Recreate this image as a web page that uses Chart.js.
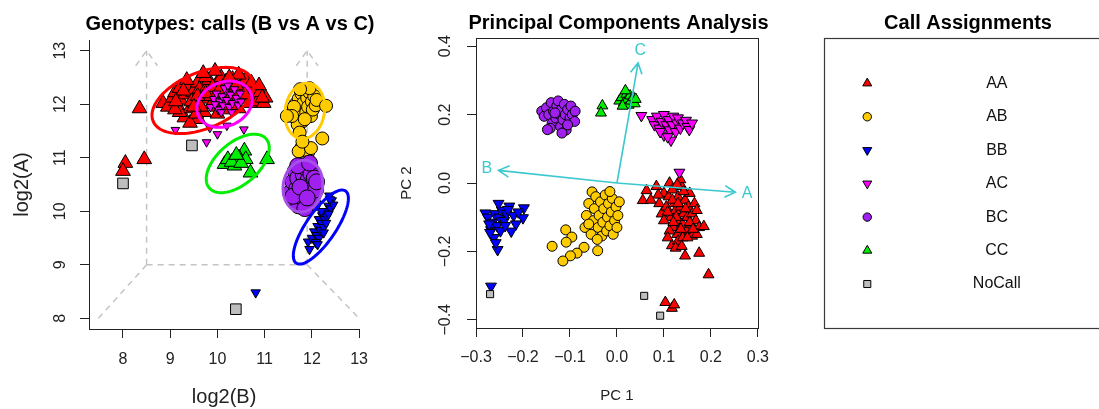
<!DOCTYPE html>
<html>
<head>
<meta charset="utf-8">
<title>Genotype calls</title>
<script src="https://cdn.jsdelivr.net/npm/chart.js@4.4.1/dist/chart.umd.min.js"></script>
<style>
  html, body { margin: 0; padding: 0; background: #ffffff; }
  #page { position: relative; width: 1099px; height: 409px; overflow: hidden; background: #ffffff; }
  #page canvas { position: absolute; top: 0; }
</style>
</head>
<body>
<div id="page">
  <canvas id="genoChart" width="380" height="409" style="left:0px"></canvas>
  <canvas id="pcaChart" width="400" height="409" style="left:380px"></canvas>
  <canvas id="keyChart" width="319" height="409" style="left:780px"></canvas>
</div>
<script>
// ---------------- genotype classes ----------------
const genotypes = ['AA', 'AB', 'BB', 'AC', 'BC', 'CC', 'NoCall'];

// ---------------- intensities: [log2(B), log2(A)] ----------------
const intensAA = [[8.85,12.02],[8.95,11.95],[9.05,12.12],[9.1,12.22],[9.15,11.98],[9.2,12.3],[9.22,12.08],[9.3,11.75],[9.32,12.18],[9.38,12.35],[9.42,11.92],[9.48,12.22],[9.52,12.02],[9.58,12.4],[9.6,11.72],[9.62,12.28],[9.68,12.1],[9.72,11.85],[9.78,12.32],[9.82,12.45],[9.88,12.0],[9.92,12.2],[9.98,12.38],[10.02,11.95],[10.08,12.5],[10.12,12.22],[10.18,12.42],[10.22,12.05],[10.28,12.32],[10.32,12.47],[10.38,12.15],[10.45,11.92],[10.5,12.3],[10.55,12.42],[10.6,12.1],[10.65,12.25],[10.7,12.02],[10.75,12.32],[10.8,12.15],[10.85,12.05],[10.9,12.22],[10.98,12.02],[9.2,11.85],[9.42,11.65],[9.55,11.82],[10.0,11.82],[9.75,12.5],[9.35,12.45],[10.6,12.45],[11.02,12.12],[9.1,11.9],[9.65,11.95],[10.4,12.35],[9.85,12.15],[10.15,11.9],[9.95,12.62],[9.7,12.58],[10.45,12.55],[9.28,12.25],[9.45,12.05],[9.58,12.15],[9.9,12.32],[10.05,12.28],[10.25,12.5],[10.35,11.98],[10.58,12.18],[10.72,12.4],[10.88,12.35],[10.95,12.12],[9.5,11.95],[9.75,12.2],[10.1,12.05],[9.12,12.05],[8.35,11.92],[8.05,10.9],[8.45,10.97],[8.0,10.75]];
const intensAB = [[11.6,11.85],[11.65,12.0],[11.68,11.75],[11.72,12.1],[11.75,11.9],[11.78,12.2],[11.8,11.68],[11.82,12.02],[11.85,12.25],[11.88,11.85],[11.9,12.12],[11.92,11.95],[11.95,12.22],[11.98,11.78],[12.0,12.05],[12.02,11.9],[12.05,12.15],[12.08,11.98],[11.7,11.62],[11.62,11.95],[11.85,11.72],[11.95,12.3],[11.75,12.28],[12.1,12.08],[11.58,11.78],[12.3,11.97],[11.47,11.78],[11.74,11.47],[11.78,11.19],[11.92,11.1],[12.22,11.36],[11.85,11.15],[11.72,11.12],[11.98,11.18],[11.8,11.3]];
const intensBB = [[11.95,9.29],[11.92,9.43],[12.37,10.29],[12.0,9.5],[12.05,9.62],[12.1,9.55],[12.12,9.72],[12.15,9.85],[12.18,9.65],[12.2,9.78],[12.22,9.92],[12.25,9.7],[12.28,9.85],[12.3,10.0],[12.32,9.9],[12.35,10.1],[12.4,10.05],[12.42,10.2],[12.15,9.5],[12.08,9.42],[12.25,9.6],[12.3,9.78],[12.45,10.12],[12.2,10.0],[12.35,9.95],[12.12,9.38],[12.38,10.22],[10.81,8.48]];
const intensAC = [[9.85,11.95],[9.92,12.1],[9.98,12.2],[10.02,11.9],[10.05,12.05],[10.1,12.15],[10.12,11.98],[10.18,12.25],[10.2,12.08],[10.25,11.95],[10.28,12.18],[10.32,12.02],[10.36,12.28],[10.4,12.12],[10.44,11.98],[10.48,12.2],[10.08,11.85],[10.3,11.85],[9.95,12.0],[10.15,12.3],[10.5,12.05],[10.22,12.35],[9.11,11.52],[9.77,11.29],[10.0,11.44],[10.2,11.6],[10.56,11.53],[9.84,11.56]];
const intensBC = [[11.55,10.35],[11.6,10.55],[11.62,10.2],[11.65,10.75],[11.68,10.42],[11.7,10.62],[11.72,10.1],[11.75,10.3],[11.78,10.85],[11.8,10.5],[11.82,10.68],[11.85,10.2],[11.88,10.4],[11.9,10.78],[11.92,10.58],[11.95,10.32],[11.98,10.7],[12.0,10.48],[12.02,10.15],[12.05,10.62],[12.08,10.4],[11.7,10.85],[11.6,10.28],[11.85,10.05],[11.95,10.9],[12.1,10.55],[11.75,10.45],[11.9,10.25]];
const intensCC = [[10.15,10.88],[10.36,10.85],[10.57,11.13],[10.46,11.0],[10.6,10.97],[11.05,10.97],[10.22,10.97],[10.3,10.92],[10.5,10.9],[10.4,11.05],[10.7,10.72]];
const intensNoCall = [[8.0,10.52],[9.46,11.23],[10.39,8.17]];

// ---------------- principal components: [PC1, PC2] ----------------
const pcaAA = [[0.063,-0.022],[0.055,-0.051],[0.084,-0.01],[0.112,0.0],[0.1,-0.03],[0.09,-0.06],[0.095,-0.09],[0.105,-0.07],[0.11,-0.04],[0.115,-0.1],[0.118,-0.02],[0.12,-0.13],[0.122,-0.06],[0.125,-0.08],[0.128,-0.15],[0.13,-0.04],[0.132,-0.11],[0.135,-0.07],[0.138,-0.01],[0.14,-0.12],[0.142,-0.09],[0.145,-0.05],[0.148,-0.14],[0.15,-0.1],[0.152,-0.07],[0.155,-0.03],[0.158,-0.12],[0.16,-0.09],[0.165,-0.06],[0.168,-0.11],[0.17,-0.08],[0.175,-0.13],[0.185,-0.127],[0.175,-0.205],[0.145,-0.213],[0.117,-0.183],[0.195,-0.268],[0.103,-0.349],[0.117,-0.366],[0.122,-0.356],[0.13,-0.17],[0.14,-0.16],[0.125,-0.19],[0.16,-0.155],[0.112,-0.14],[0.1,-0.11],[0.135,0.01],[0.088,-0.035],[0.128,-0.005],[0.15,-0.16],[0.17,-0.15],[0.108,-0.16],[0.118,-0.05],[0.126,-0.1],[0.136,-0.135],[0.146,-0.075],[0.155,-0.115],[0.13,-0.06],[0.142,-0.025],[0.12,-0.115],[0.108,-0.085],[0.162,-0.135],[0.138,-0.185],[0.072,-0.05]];
const pcaAB = [[-0.053,-0.026],[-0.06,-0.06],[-0.065,-0.095],[-0.068,-0.13],[-0.055,-0.15],[-0.05,-0.11],[-0.048,-0.075],[-0.045,-0.04],[-0.04,-0.13],[-0.038,-0.095],[-0.035,-0.055],[-0.032,-0.155],[-0.03,-0.115],[-0.028,-0.075],[-0.025,-0.035],[-0.022,-0.14],[-0.02,-0.1],[-0.018,-0.06],[-0.015,-0.125],[-0.012,-0.085],[-0.01,-0.045],[-0.008,-0.15],[-0.005,-0.11],[-0.002,-0.07],[0.002,-0.095],[0.005,-0.055],[-0.015,-0.025],[-0.042,-0.165],[0.0,-0.13],[-0.06,-0.12],[-0.109,-0.137],[-0.096,-0.158],[-0.138,-0.185],[-0.108,-0.173],[-0.07,-0.188],[-0.085,-0.205],[-0.099,-0.213],[-0.115,-0.228],[-0.041,-0.198]];
const pcaBB = [[-0.28,-0.088],[-0.254,-0.195],[-0.198,-0.073],[-0.229,-0.068],[-0.268,-0.137],[-0.225,-0.141],[-0.2,-0.102],[-0.275,-0.1],[-0.265,-0.115],[-0.26,-0.09],[-0.255,-0.125],[-0.25,-0.1],[-0.245,-0.08],[-0.24,-0.11],[-0.235,-0.09],[-0.262,-0.16],[-0.258,-0.175],[-0.27,-0.145],[-0.248,-0.14],[-0.238,-0.125],[-0.22,-0.095],[-0.215,-0.12],[-0.21,-0.085],[-0.232,-0.078],[-0.272,-0.12],[-0.252,-0.06],[-0.268,-0.302]];
const pcaAC = [[0.052,0.197],[0.075,0.185],[0.08,0.17],[0.085,0.195],[0.09,0.16],[0.095,0.18],[0.1,0.2],[0.1,0.14],[0.105,0.17],[0.11,0.185],[0.112,0.155],[0.115,0.125],[0.118,0.17],[0.12,0.195],[0.125,0.15],[0.128,0.175],[0.13,0.19],[0.135,0.16],[0.14,0.175],[0.147,0.183],[0.15,0.165],[0.154,0.156],[0.16,0.175],[0.108,0.135],[0.092,0.15],[0.133,0.031]];
const pcaBC = [[-0.16,0.21],[-0.155,0.195],[-0.15,0.22],[-0.145,0.2],[-0.14,0.235],[-0.138,0.175],[-0.135,0.21],[-0.13,0.19],[-0.128,0.225],[-0.125,0.24],[-0.122,0.2],[-0.12,0.165],[-0.118,0.215],[-0.115,0.185],[-0.112,0.23],[-0.11,0.2],[-0.108,0.155],[-0.105,0.215],[-0.1,0.19],[-0.098,0.225],[-0.095,0.2],[-0.09,0.18],[-0.089,0.21],[-0.142,0.16],[-0.117,0.146],[-0.148,0.156],[-0.105,0.17],[-0.132,0.205]];
const pcaCC = [[-0.031,0.226],[-0.034,0.205],[0.005,0.24],[0.01,0.25],[0.015,0.235],[0.02,0.26],[0.022,0.245],[0.025,0.228],[0.028,0.255],[0.03,0.24],[0.035,0.25],[0.038,0.232],[0.012,0.225],[0.018,0.27],[0.04,0.245]];
const pcaNoCall = [[-0.27,-0.325],[0.058,-0.33],[0.092,-0.388]];

// variable loadings drawn as arrows from the origin
const loadingNames = ['A', 'B', 'C'];
const loadingPC1 = [0.252, -0.252, 0.045];
const loadingPC2 = [-0.027, 0.037, 0.351];

// ---------------- axis ticks ----------------
const genoXTicks = [8, 9, 10, 11, 12, 13];
const genoXTickLabels = ['8', '9', '10', '11', '12', '13'];
const genoYTicks = [8, 9, 10, 11, 12, 13];
const genoYTickLabels = ['8', '9', '10', '11', '12', '13'];
const pcaXTicks = [-0.3, -0.2, -0.1, 0, 0.1, 0.2, 0.3];
const pcaXTickLabels = ['\u22120.3', '\u22120.2', '\u22120.1', '0.0', '0.1', '0.2', '0.3'];
const pcaYTicks = [-0.4, -0.2, 0, 0.2, 0.4];
const pcaYTickLabels = ['\u22120.4', '\u22120.2', '0.0', '0.2', '0.4'];

// cluster ellipses in log2 space: centre and two conjugate semi-axes
const ellipseGroups = ['AA', 'AC', 'CC', 'AB', 'BC', 'BB'];
const ellipseCentre = [[9.69, 12.07], [10.15, 12.0], [10.43, 10.893], [11.85, 11.875], [11.81, 10.47], [12.19, 9.705]];
const ellipseAxisU = [[1.054, 0.383], [0.559, 0.204], [0.605, 0.456], [0.101, 0.515], [0.094, 0.478], [0.524, 0.673]];
const ellipseAxisV = [[-0.218, 0.486], [-0.171, 0.381], [-0.281, 0.301], [0.41, -0.065], [0.41, -0.065], [-0.256, 0.161]];

// dashed perspective guides behind the intensity scatter
const guideLines = [
  [[8.5, 9], [8.5, 13]],
  [[11.9, 9], [11.9, 13]],
  [[8.5, 9], [11.9, 9]],
  [[8.5, 9], [7.48, 8]],
  [[11.9, 9], [13.0, 8]],
  [[8.27, 12.72], [8.5, 13], [8.73, 12.72]],
  [[11.67, 12.72], [11.9, 13], [12.13, 12.72]]
];

// ---------------- styling ----------------
const INK = '#222222';
const FONT = "'Liberation Sans', Arial, Helvetica, sans-serif";
const fill = { AA: '#ff0000', AB: '#ffcc00', BB: '#0000ff', AC: '#ff00ff', BC: '#a020f0', CC: '#00ee00', NoCall: '#bebebe' };
const ringColour = { AA: '#ff0000', AB: '#ffcc00', BB: '#0000ff', AC: '#ff00ff', BC: '#a64ee8', CC: '#00ee00' };
const shape = { AA: 'triangle', AB: 'circle', BB: 'triangle', AC: 'triangle', BC: 'circle', CC: 'triangle', NoCall: 'rect' };
const turn = { AA: 0, AB: 0, BB: 180, AC: 180, BC: 0, CC: 0, NoCall: 0 };
const genoSize = { AA: 8.5, AB: 6.5, BB: 5.5, AC: 5, BC: 8, CC: 8.5, NoCall: 7.5 };
const pcaSize = { triangle: 6.3, circle: 5, rect: 5 };
const keySize = { triangle: 5.2, circle: 4.2, rect: 5 };
const ARROW = '#3cc8d0';

Chart.defaults.font.family = FONT;
Chart.defaults.color = INK;

const intensData = { AA: intensAA, AB: intensAB, BB: intensBB, AC: intensAC, BC: intensBC, CC: intensCC, NoCall: intensNoCall };
const pcaData = { AA: pcaAA, AB: pcaAB, BB: pcaBB, AC: pcaAC, BC: pcaBC, CC: pcaCC, NoCall: pcaNoCall };

const toPoints = rows => rows.map(([x, y]) => ({ x, y }));

function makeDatasets(source, radiusOf) {
  return genotypes.map((g, i) => ({
    label: g,
    data: toPoints(source[g]),
    pointStyle: shape[g],
    rotation: turn[g],
    pointRadius: radiusOf(g),
    pointHoverRadius: radiusOf(g),
    backgroundColor: fill[g],
    borderColor: '#000000',
    pointBorderWidth: 1,
    showLine: false,
    order: genotypes.length - i
  }));
}

function linearAxis(cfg) {
  return {
    type: 'linear',
    min: cfg.min,
    max: cfg.max,
    afterBuildTicks: s => { s.ticks = cfg.ticks.map(v => ({ value: v })); },
    afterFit: s => { if (cfg.horizontal) { s.height = cfg.fit; } else { s.width = cfg.fit; } },
    grid: { display: true, drawOnChartArea: false, drawTicks: true, tickLength: 9, color: INK, lineWidth: 1 },
    border: { display: true, color: INK, width: 1 },
    ticks: {
      color: INK,
      font: { size: 16 },
      padding: cfg.tickPad,
      autoSkip: false,
      minRotation: cfg.horizontal ? 0 : 90,
      maxRotation: cfg.horizontal ? 0 : 90,
      crossAlign: cfg.horizontal ? 'near' : 'center',
      callback: v => {
        const k = cfg.ticks.findIndex(t => Math.abs(t - v) < 1e-9);
        return k >= 0 ? cfg.labels[k] : '';
      }
    },
    title: { display: true, text: cfg.title, color: INK, font: { size: cfg.titleSize }, padding: cfg.titlePad }
  };
}

function panelTitle(text, x, baseline) {
  return {
    id: 'panelTitle',
    afterDraw(chart) {
      const ctx = chart.ctx;
      ctx.save();
      ctx.font = 'bold 20px ' + FONT;
      ctx.fillStyle = '#000000';
      ctx.textAlign = 'center';
      ctx.textBaseline = 'alphabetic';
      ctx.fillText(text, x, baseline);
      ctx.restore();
    }
  };
}

// ---------------- intensity panel decorations ----------------
const genoGuides = {
  id: 'genoGuides',
  beforeDatasetsDraw(chart) {
    const { ctx, scales: { x, y } } = chart;
    ctx.save();
    ctx.strokeStyle = '#c4c4c4';
    ctx.lineWidth = 1.5;
    ctx.setLineDash([6, 5]);
    guideLines.forEach(path => {
      ctx.beginPath();
      path.forEach(([bx, ay], k) => {
        const px = x.getPixelForValue(bx), py = y.getPixelForValue(ay);
        if (k === 0) ctx.moveTo(px, py); else ctx.lineTo(px, py);
      });
      ctx.stroke();
    });
    ctx.restore();
  },
  afterDatasetsDraw(chart) {
    const { ctx, scales: { x, y } } = chart;
    ctx.save();
    ctx.lineWidth = 3;
    ellipseGroups.forEach((g, i) => {
      const [cx, cy] = ellipseCentre[i];
      const [ux, uy] = ellipseAxisU[i];
      const [vx, vy] = ellipseAxisV[i];
      ctx.beginPath();
      for (let k = 0; k <= 120; k++) {
        const t = (k / 120) * Math.PI * 2;
        const bx = cx + ux * Math.cos(t) + vx * Math.sin(t);
        const ay = cy + uy * Math.cos(t) + vy * Math.sin(t);
        const px = x.getPixelForValue(bx), py = y.getPixelForValue(ay);
        if (k === 0) ctx.moveTo(px, py); else ctx.lineTo(px, py);
      }
      ctx.closePath();
      ctx.strokeStyle = ringColour[g];
      ctx.stroke();
    });
    ctx.restore();
  }
};

new Chart(document.getElementById('genoChart'), {
  type: 'scatter',
  data: { datasets: makeDatasets(intensData, g => genoSize[g]) },
  options: {
    responsive: false,
    devicePixelRatio: 1,
    animation: false,
    layout: { padding: { left: 0, top: 40, right: 16, bottom: 0 } },
    scales: {
      x: linearAxis({ min: 7.28, max: 13.0, ticks: genoXTicks, labels: genoXTickLabels, horizontal: true, fit: 80, tickPad: 12, title: 'log2(B)', titleSize: 20, titlePad: { top: 0, bottom: 0 } }),
      y: linearAxis({ min: 7.8, max: 13.2, ticks: genoYTicks, labels: genoYTickLabels, horizontal: false, fit: 89, tickPad: 11, title: 'log2(A)', titleSize: 20, titlePad: { top: 10, bottom: 0 } })
    },
    plugins: { legend: { display: false }, tooltip: { enabled: false } }
  },
  plugins: [genoGuides, panelTitle('Genotypes: calls (B vs A vs C)', 230, 29.5)]
});

// ---------------- PCA panel decorations ----------------
const pcaDecor = {
  id: 'pcaDecor',
  afterDatasetsDraw(chart) {
    const { ctx, chartArea: a, scales: { x, y } } = chart;
    ctx.save();
    ctx.strokeStyle = INK;
    ctx.lineWidth = 1;
    ctx.strokeRect(Math.round(a.left) + 0.5, Math.round(a.top) + 0.5, Math.round(a.right - a.left), Math.round(a.bottom - a.top));
    const ox = x.getPixelForValue(0), oy = y.getPixelForValue(0);
    ctx.strokeStyle = ARROW;
    ctx.fillStyle = ARROW;
    ctx.lineWidth = 1.6;
    ctx.font = '16px ' + FONT;
    ctx.textAlign = 'center';
    ctx.textBaseline = 'middle';
    loadingNames.forEach((name, i) => {
      const tx = x.getPixelForValue(loadingPC1[i]);
      const ty = y.getPixelForValue(loadingPC2[i]);
      const ang = Math.atan2(ty - oy, tx - ox);
      ctx.beginPath();
      ctx.moveTo(ox, oy);
      ctx.lineTo(tx, ty);
      const head = 12, spread = 0.5;
      ctx.moveTo(tx - head * Math.cos(ang - spread), ty - head * Math.sin(ang - spread));
      ctx.lineTo(tx, ty);
      ctx.lineTo(tx - head * Math.cos(ang + spread), ty - head * Math.sin(ang + spread));
      ctx.stroke();
      const lx = x.getPixelForValue(loadingPC1[i] * 1.1);
      const ly = y.getPixelForValue(loadingPC2[i] * 1.1);
      ctx.fillText(name, lx, ly);
    });
    ctx.restore();
  }
};

new Chart(document.getElementById('pcaChart'), {
  type: 'scatter',
  data: { datasets: makeDatasets(pcaData, g => pcaSize[shape[g]]) },
  options: {
    responsive: false,
    devicePixelRatio: 1,
    animation: false,
    layout: { padding: { left: 0, top: 38, right: 18, bottom: 0 } },
    scales: {
      x: linearAxis({ min: -0.3, max: 0.3, ticks: pcaXTicks, labels: pcaXTickLabels, horizontal: true, fit: 81, tickPad: 11, title: 'PC 1', titleSize: 15, titlePad: { top: 0, bottom: 4 } }),
      y: linearAxis({ min: -0.424, max: 0.424, ticks: pcaYTicks, labels: pcaYTickLabels, horizontal: false, fit: 96, tickPad: 5.5, title: 'PC 2', titleSize: 15, titlePad: { top: 18, bottom: 0 } })
    },
    plugins: { legend: { display: false }, tooltip: { enabled: false } }
  },
  plugins: [pcaDecor, panelTitle('Principal Components Analysis', 238.5, 29)]
});

// ---------------- call assignment key ----------------
const KEY_MARK_X = 0.161;
const KEY_LABEL_X = 0.643;

const keyDecor = {
  id: 'keyDecor',
  beforeDatasetsDraw(chart) {
    const { ctx, chartArea: a } = chart;
    ctx.save();
    ctx.strokeStyle = '#3a3a3a';
    ctx.lineWidth = 1.2;
    ctx.strokeRect(Math.round(a.left) + 0.5, Math.round(a.top) + 0.5, 400, Math.round(a.bottom - a.top));
    ctx.restore();
  },
  afterDatasetsDraw(chart) {
    const { ctx, scales: { x, y } } = chart;
    ctx.save();
    ctx.font = '16px ' + FONT;
    ctx.fillStyle = '#111111';
    ctx.textAlign = 'center';
    ctx.textBaseline = 'middle';
    genotypes.forEach((g, i) => {
      ctx.fillText(g, x.getPixelForValue(KEY_LABEL_X), y.getPixelForValue(i));
    });
    ctx.restore();
  }
};

new Chart(document.getElementById('keyChart'), {
  type: 'scatter',
  data: {
    datasets: genotypes.map((g, i) => ({
      label: g,
      data: [{ x: KEY_MARK_X, y: i }],
      pointStyle: shape[g],
      rotation: turn[g],
      pointRadius: keySize[shape[g]],
      pointHoverRadius: keySize[shape[g]],
      backgroundColor: fill[g],
      borderColor: '#000000',
      pointBorderWidth: 1
    }))
  },
  options: {
    responsive: false,
    devicePixelRatio: 1,
    animation: false,
    layout: { padding: { left: 44, top: 38, right: 0, bottom: 81 } },
    scales: {
      x: { type: 'linear', display: false, min: 0, max: 1 },
      y: { type: 'linear', display: false, min: -1.354, max: 7.315, reverse: true }
    },
    plugins: { legend: { display: false }, tooltip: { enabled: false } }
  },
  plugins: [keyDecor, panelTitle('Call Assignments', 188, 29)]
});
</script>
</body>
</html>
